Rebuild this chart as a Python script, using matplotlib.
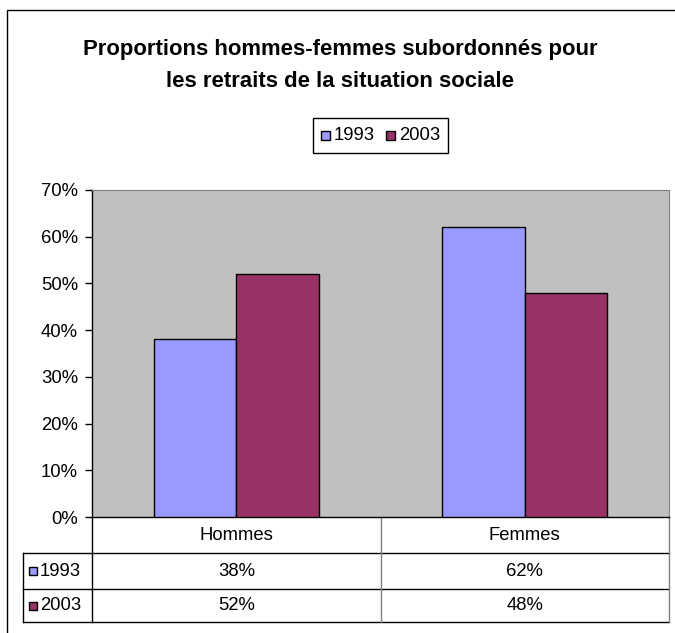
import matplotlib
matplotlib.use("Agg")
import matplotlib.pyplot as plt
from matplotlib.patches import Rectangle
from matplotlib.lines import Line2D

categories = ["Hommes", "Femmes"]
series_names = ["1993", "2003"]
values_1993 = [38, 62]
values_2003 = [52, 48]
yticks = [0, 10, 20, 30, 40, 50, 60, 70]
title_lines = ["Proportions hommes-femmes subordonnés pour",
               "les retraits de la situation sociale"]

colors = ["#9999FF", "#993366"]
series = [values_1993, values_2003]

plt.rcParams['font.family'] = ['Liberation Sans', 'DejaVu Sans']
FS = 13.3

W, H = 675, 633
fig = plt.figure(figsize=(W / 100, H / 100), dpi=100)

# overlay axes in pixel coordinates
ov = fig.add_axes([0, 0, 1, 1])
ov.set_xlim(0, W)
ov.set_ylim(H, 0)
ov.axis("off")

# outer frame
ov.add_patch(Rectangle((7, 10), 700, 700, fill=False, edgecolor="black", lw=1.0))

# plot area (pixels)
L, R, T, B = 92, 669, 190, 517
ax = fig.add_axes([L / W, 1 - B / H, (R - L) / W, (B - T) / H])
ax.set_facecolor("#C0C0C0")
w = 1 / 3.5
for i, (vals, c) in enumerate(zip(series, colors)):
    xs = [k + (i - 0.5) * w for k in range(len(categories))]
    ax.bar(xs, vals, width=w, color=c, edgecolor="black", linewidth=1.0, zorder=3)
ax.set_xlim(-0.5, len(categories) - 0.5)
ax.set_ylim(0, 70)
ax.set_yticks(yticks)
ax.set_yticklabels([f"{v}%" for v in yticks], fontsize=FS)
ax.tick_params(axis="y", direction="out", length=5, width=1, pad=5)
ax.set_xticks([])
for s in ["top", "right"]:
    ax.spines[s].set_color("#808080")
ax.spines["left"].set_color("black")
ax.spines["bottom"].set_color("black")
ax.spines["left"].set_linewidth(1)
ax.spines["bottom"].set_linewidth(1)

# title
for line, y in zip(title_lines, [55, 87]):
    ov.text(340, y, line, ha="center", va="baseline", fontsize=15.9, fontweight="bold")

# legend box
ov.add_patch(Rectangle((313, 118), 135, 35, fill=False, edgecolor="black", lw=1))
lx = 321
for name, c in zip(series_names, colors):
    ov.add_patch(Rectangle((lx, 131), 9, 9, facecolor=c, edgecolor="black", lw=1))
    ov.text(lx + 13, 136, name, ha="left", va="center", fontsize=FS)
    lx += 65

# data table
ncat = len(categories)
colw = (R - L) / ncat
row_h = [B, 553, 589, 622]
for y in row_h[1:]:
    ov.add_line(Line2D([23, R], [y, y], color="black", lw=1))
ov.add_line(Line2D([23, 23], [row_h[1], row_h[3]], color="black", lw=1))
ov.add_line(Line2D([L, L], [B, row_h[3]], color="black", lw=1))
for k in range(1, ncat + 1):
    ov.add_line(Line2D([L + k * colw] * 2, [B, row_h[3]], color="#808080", lw=1))
for k, cat in enumerate(categories):
    ov.text(L + (k + 0.5) * colw, (row_h[0] + row_h[1]) / 2, cat, ha="center",
            va="center", fontsize=FS)
for r, (name, vals, c) in enumerate(zip(series_names, series, colors)):
    yc = (row_h[r + 1] + row_h[r + 2]) / 2
    ov.add_patch(Rectangle((29, yc - 4), 8, 8, facecolor=c, edgecolor="black", lw=1))
    ov.text(40, yc, name, ha="left", va="center", fontsize=FS)
    for k, v in enumerate(vals):
        ov.text(L + (k + 0.5) * colw, yc, f"{v}%", ha="center", va="center", fontsize=FS)

fig.savefig("out.png", dpi=100)
